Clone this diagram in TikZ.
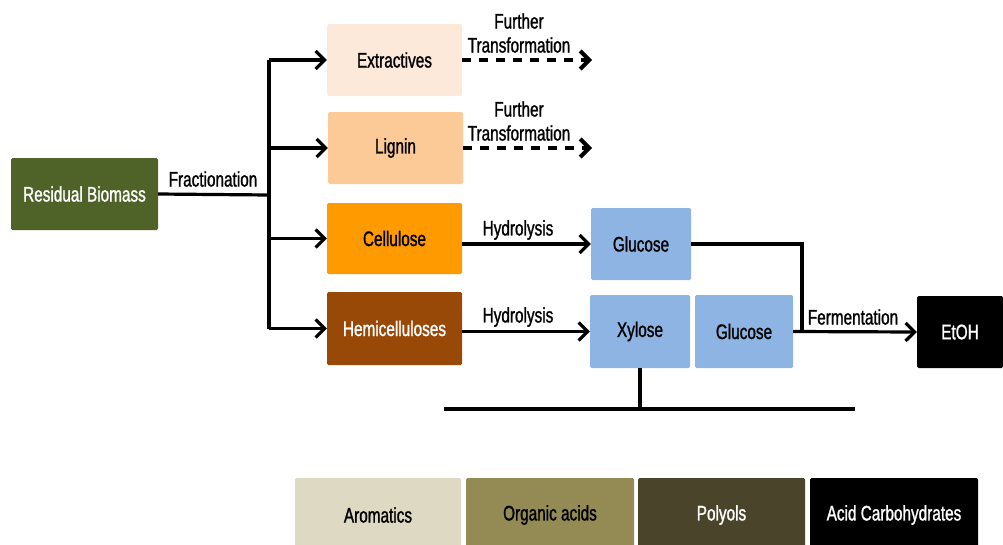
\documentclass[tikz,border=0pt]{standalone}
\usepackage{fontspec}
\setmainfont{Liberation Sans}[FakeStretch=0.73, FakeBold=1.2]
\usetikzlibrary{arrows.meta}
\definecolor{cgreen}{HTML}{4F6228}
\definecolor{cext}{HTML}{FDE9D9}
\definecolor{clig}{HTML}{FBCA97}
\definecolor{ccel}{HTML}{FF9B00}
\definecolor{chem}{HTML}{984807}
\definecolor{cblue}{HTML}{8DB4E2}
\definecolor{caro}{HTML}{DDD9C3}
\definecolor{corg}{HTML}{948A54}
\definecolor{cpol}{HTML}{4A452A}
\tikzset{
  box/.style={rectangle, rounded corners=1.5pt, inner sep=0pt, minimum height=72pt, text=black, font=\fontsize{21}{24}\selectfont},
  lbl/.style={inner sep=0pt, font=\fontsize{21}{24}\selectfont, align=center},
  ln/.style={line width=3.2pt, black},
  arr/.style={ln, -{Straight Barb[length=9pt, width=18pt]}},
  dsh/.style={arr, line width=4pt, dash pattern=on 9pt off 8pt},
}
\begin{document}
\begin{tikzpicture}[x=1pt, y=-1pt]
\useasboundingbox (0,0) rectangle (1003,544);
% boxes
\node[box, fill=cgreen, text=white, minimum width=147pt] (rb) at (84.5,194) {Residual Biomass};
\node[box, fill=cext, minimum width=135pt] (ext) at (394.5,60) {Extractives};
\node[box, fill=clig, minimum width=135pt] (lig) at (395.5,148) {Lignin};
\node[box, fill=ccel, minimum width=135pt, minimum height=71pt] (cel) at (394.5,238.5) {Cellulose};
\node[box, fill=chem, text=white, minimum width=135pt, minimum height=73pt] (hem) at (394.5,328.5) {Hemicelluloses};
\node[box, fill=cblue, minimum width=100pt] (glu1) at (641,244) {Glucose};
\node[box, fill=cblue, minimum width=100pt, minimum height=73pt] (xyl) at (640,331.5) {Xylose};
\node[box, fill=cblue, minimum width=98pt, minimum height=73pt] (glu2) at (744,331.5) {Glucose};
\node[box, fill=black, text=white, minimum width=86pt] (etoh) at (960,332) {EtOH};
\node[box, fill=caro, minimum width=166pt, minimum height=74pt] (aro) at (378,515) {Aromatics};
\node[box, fill=corg, minimum width=168pt, minimum height=74pt] (org) at (550,515) {Organic acids};
\node[box, fill=cpol, text=white, minimum width=167pt, minimum height=74pt] (pol) at (721.5,515) {Polyols};
\node[box, fill=black, text=white, minimum width=168pt, minimum height=74pt] (acid) at (894,515) {Acid Carbohydrates};
% fractionation fork
\coordinate (fork) at (269,195);
\draw[ln] (rb.east) -- (fork);
\draw[ln] (fork |- ext.west) -- (fork |- hem.west);
\draw[arr] (fork |- ext.west) -- (ext.west);
\draw[arr] (fork |- lig.west) -- (lig.west);
\draw[arr] (fork |- cel.west) -- (cel.west);
\draw[arr] (fork |- hem.west) -- (hem.west);
\node[lbl] (frac) at (213,179) {Fractionation};
% further transformation
\coordinate (extend) at (592,60);
\coordinate (ligend) at (592,148);
\draw[dsh] (ext.east) -- (extend);
\draw[dsh] (lig.east) -- (ligend);
\node[lbl] (ft1) at (519,33) {Further\\Transformation};
\node[lbl] (ft2) at (519,121) {Further\\Transformation};
% hydrolysis
\draw[arr] (cel.east |- glu1.west) -- (glu1.west);
\draw[arr] (hem.east |- xyl.west) -- (xyl.west);
\node[lbl] (hy1) at (518,230) {Hydrolysis};
\node[lbl] (hy2) at (518,317) {Hydrolysis};
% fermentation
\coordinate (join) at (802,331.5);
\draw[ln] (glu1.east) -| (join);
\draw[arr] (glu2.east) -- (etoh.west);
\node[lbl] (fer) at (853,317) {Fermentation};
% xylose bar
\coordinate (barL) at (444,409);
\coordinate (barR) at (855,409);
\draw[ln] (xyl.south) -- (xyl.south |- barL);
\draw[ln] (barL) -- (barR);
\end{tikzpicture}
\end{document}
